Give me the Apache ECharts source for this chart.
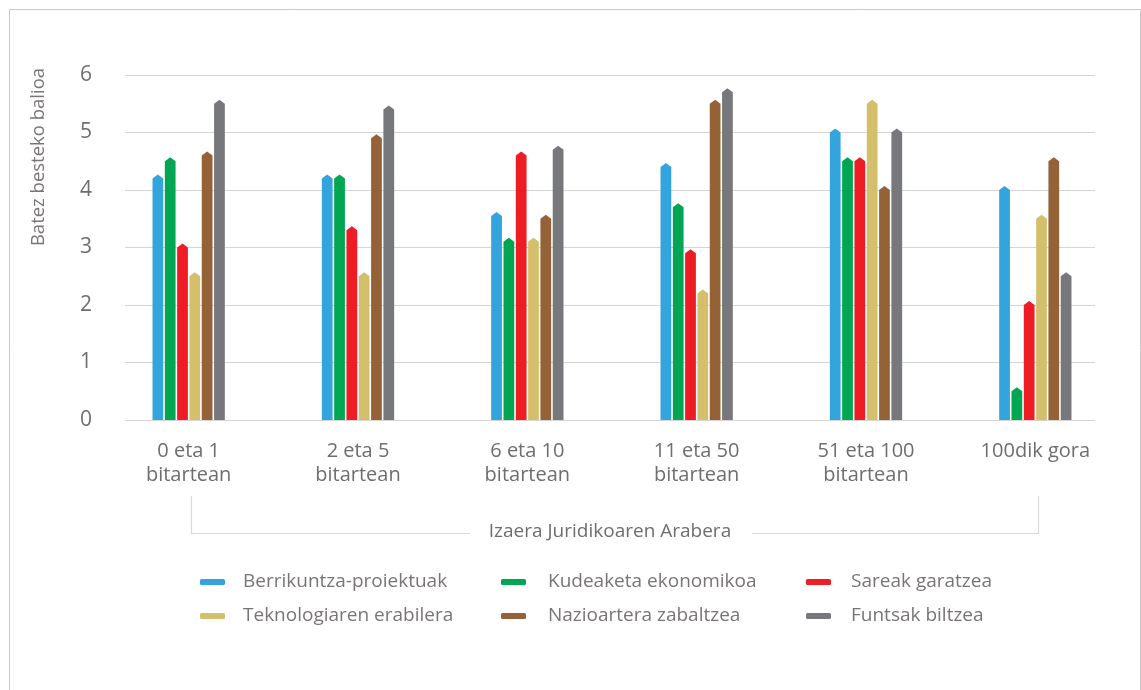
<!DOCTYPE html>
<html>
<head>
<meta charset="utf-8">
<script src="https://cdn.jsdelivr.net/npm/echarts@6/dist/echarts.min.js"></script>
<style>
html,body{margin:0;padding:0;background:#fff;}
#chart{width:1141px;height:690px;}
</style>
</head>
<body>
<div id="chart"></div>
<script>
const categories = ['0 eta 1\nbitartean', '2 eta 5\nbitartean', '6 eta 10\nbitartean', '11 eta 50\nbitartean', '51 eta 100\nbitartean', '100dik gora'];
const seriesNames = ['Berrikuntza-proiektuak', 'Kudeaketa ekonomikoa', 'Sareak garatzea', 'Teknologiaren erabilera', 'Nazioartera zabaltzea', 'Funtsak biltzea'];
const berrikuntza = [4.2, 4.2, 3.55, 4.4, 5.0, 4.0];
const kudeaketa   = [4.5, 4.2, 3.1, 3.7, 4.5, 0.5];
const sareak      = [3.0, 3.3, 4.6, 2.9, 4.5, 2.0];
const teknologia  = [2.5, 2.5, 3.1, 2.2, 5.5, 3.5];
const nazioartera = [4.6, 4.9, 3.5, 5.5, 4.0, 4.5];
const funtsak     = [5.5, 5.4, 4.7, 5.7, 5.0, 2.5];
const yTicks = [0, 1, 2, 3, 4, 5, 6];
const yName = 'Batez besteko balioa';
const xName = 'Izaera Juridikoaren Arabera';

const values = [berrikuntza, kudeaketa, sareak, teknologia, nazioartera, funtsak];
const colors = ['#34a4dd', '#00a651', '#ee1c25', '#d4c06c', '#956238', '#77787b'];
const FONT = '"Open Sans", "Noto Sans", sans-serif';
const TXT = '#6e6e6e';

const chart = echarts.init(document.getElementById('chart'), null, {renderer: 'canvas'});

function renderItem(params, api) {
  const cat = api.value(0), v = api.value(1);
  const base = api.coord([cat, 0]);
  const top = api.coord([cat, v]);
  const band = api.size([1, 0])[0];
  const pitch = band * 0.0727;
  const w = band * 0.0635;
  const cx = base[0] + (params.seriesIndex - 2.5) * pitch;
  const x0 = cx - w / 2, x1 = cx + w / 2;
  const tip = 4;
  return {
    type: 'polygon',
    shape: {points: [[x0, base[1]], [x0, top[1]], [cx, top[1] - tip], [x1, top[1]], [x1, base[1]]]},
    style: {fill: colors[params.seriesIndex]}
  };
}

const series = seriesNames.map((n, i) => ({
  name: n,
  type: 'custom',
  xAxisIndex: 0,
  yAxisIndex: 0,
  renderItem: renderItem,
  itemStyle: {color: colors[i]},
  data: values[i].map((v, j) => [j, v]),
  z: 5
}));

function legendCol(names, left, gap) {
  return {
    orient: 'vertical',
    left: left,
    top: 571,
    padding: 0,
    icon: 'roundRect',
    itemWidth: 25,
    itemHeight: 6,
    itemGap: 12,
    data: names.map(n => ({name: n, icon: 'roundRect'})),
    textStyle: {fontFamily: FONT, fontSize: 19, color: '#7a7575', padding: [0, 0, 0, gap], lineHeight: 22},
    selectedMode: false
  };
}

const option = {
  animation: false,
  backgroundColor: '#fff',
  grid: [
    {left: 104, right: 21, top: 75, bottom: 270},
    {left: 125, right: 46, top: 75, bottom: 270}
  ],
  xAxis: [
    {type: 'category', gridIndex: 0, data: categories,
     axisLine: {show: false}, axisTick: {show: false},
     axisLabel: {fontFamily: FONT, fontSize: 20, color: TXT, lineHeight: 24, margin: 19}},
    {type: 'category', gridIndex: 1, data: categories, show: false}
  ],
  yAxis: [
    {type: 'value', gridIndex: 0, min: 0, max: 6, interval: 1, show: false},
    {type: 'value', gridIndex: 1, min: 0, max: 6, interval: 1,
     axisLine: {show: false}, axisTick: {show: false},
     splitLine: {lineStyle: {color: '#d9d4d4', width: 1}},
     axisLabel: {fontFamily: FONT, fontSize: 21, color: TXT, margin: 33,
       formatter: v => yTicks.indexOf(v) >= 0 ? String(v) : ''}}
  ],
  legend: [
    legendCol([seriesNames[0], seriesNames[3]], 200, 13),
    legendCol([seriesNames[1], seriesNames[4]], 501, 17),
    legendCol([seriesNames[2], seriesNames[5]], 806, 15)
  ],
  graphic: [
    {type: 'rect', left: 7, top: 7, shape: {width: 1131, height: 720}, style: {fill: 'none', stroke: '#c8c8c8', lineWidth: 1}, silent: true, z: -10},
    {type: 'text', x: 39, y: 157, rotation: Math.PI / 2,
     style: {text: yName, fontFamily: FONT, fontSize: 18.5, fill: '#7a7575', align: 'center', verticalAlign: 'middle'}},
    {type: 'polyline', shape: {points: [[191.5, 496], [191.5, 533.5], [470, 533.5]]}, style: {stroke: '#d9d9d9', lineWidth: 1.2, fill: null}},
    {type: 'polyline', shape: {points: [[752, 533.5], [1038.5, 533.5], [1038.5, 496]]}, style: {stroke: '#d9d9d9', lineWidth: 1.2, fill: null}},
    {type: 'text', x: 610, y: 532, style: {text: xName, fontFamily: FONT, fontSize: 19, fill: TXT, align: 'center', verticalAlign: 'middle'}}
  ],
  series: series
};
chart.setOption(option);
</script>
</body>
</html>
